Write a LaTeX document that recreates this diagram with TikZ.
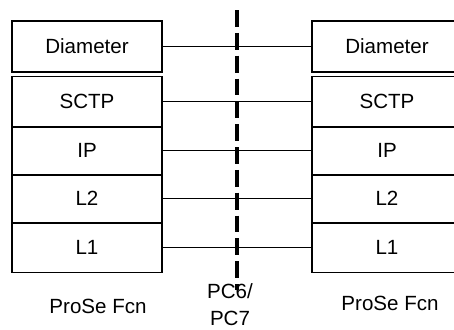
\documentclass[tikz,border=0pt]{standalone}
\usepackage{fontspec}
\setmainfont{Liberation Sans}
\usetikzlibrary{positioning}

\begin{document}
\begin{tikzpicture}[x=0.02cm,y=-0.02cm,
  every node/.style={font=\fontsize{11.7}{15.3}\selectfont},
  layer/.style={draw,line width=0.6pt,minimum width=3cm,inner sep=0pt},
  link/.style={line width=0.6pt},
  cutline/.style={line width=1.8pt,dash pattern=on 9.6pt off 3.4pt}]
\useasboundingbox (0,0) rectangle (454,329);
\clip (0,0) rectangle (454,329);
% left stack
\node[layer,minimum height=1.02cm] (diaL) at (87,46.5) {Diameter};
\node[layer,minimum height=1.0cm,below=0.06cm of diaL] (sctpL) {SCTP};
\node[layer,minimum height=0.94cm,below=0pt of sctpL] (ipL) {IP};
\node[layer,minimum height=0.94cm,below=0pt of ipL] (ltwoL) {L2};
\node[layer,minimum height=0.98cm,below=0pt of ltwoL] (loneL) {L1};
% right stack
\node[layer,minimum height=1.02cm] (diaR) at (387,46.5) {Diameter};
\node[layer,minimum height=1.0cm,below=0.06cm of diaR] (sctpR) {SCTP};
\node[layer,minimum height=0.94cm,below=0pt of sctpR] (ipR) {IP};
\node[layer,minimum height=0.94cm,below=0pt of ipR] (ltwoR) {L2};
\node[layer,minimum height=0.98cm,below=0pt of ltwoR] (loneR) {L1};
% peer links
\draw[link] (diaL.east) -- (diaR.west);
\draw[link] (sctpL.east) -- (sctpR.west);
\draw[link] (ipL.east) -- (ipR.west);
\draw[link] (ltwoL.east) -- (ltwoR.west);
\draw[link] (loneL.east) -- (loneR.west);
% reference point
\coordinate (cutT) at (237,10);
\coordinate (cutB) at (237,290);
\draw[cutline] (cutT) -- (cutB);
\node (fcnL) at (98,306) {ProSe Fcn};
\node (fcnR) at (390,303) {ProSe Fcn};
\node[align=center,inner sep=0pt] (pcLbl) at (230,305) {PC6/\\PC7};
\end{tikzpicture}
\end{document}
